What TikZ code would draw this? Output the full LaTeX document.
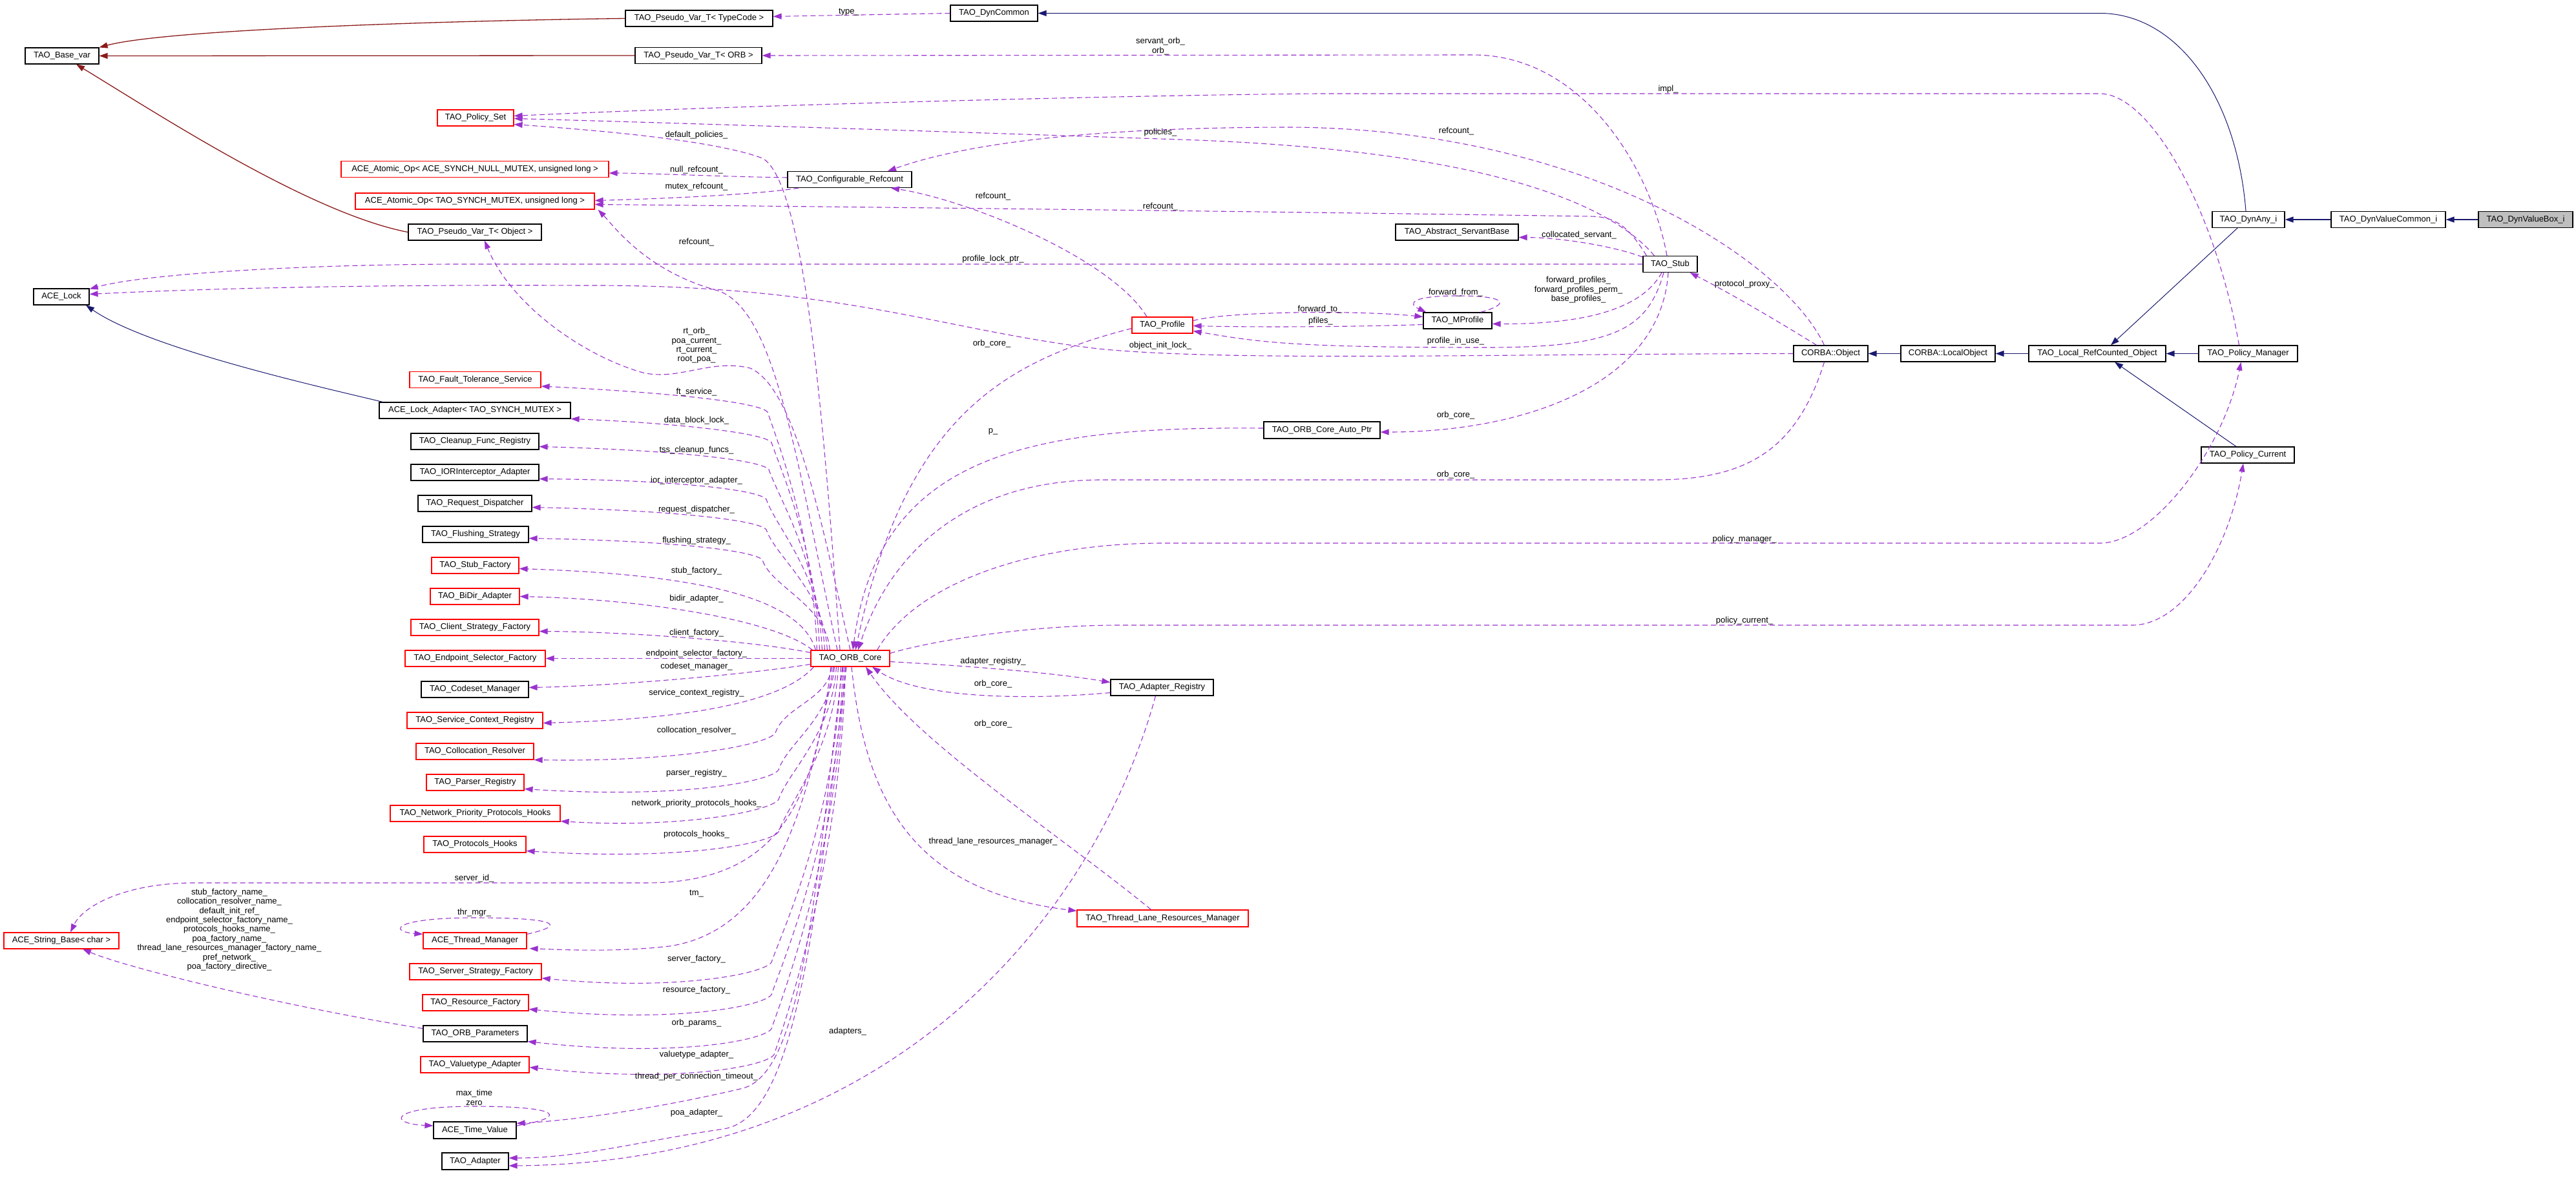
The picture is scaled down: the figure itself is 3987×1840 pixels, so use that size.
\documentclass[tikz,border=0pt]{standalone}
\usepackage{fontspec}
\setmainfont{Liberation Sans}
\usetikzlibrary{arrows.meta,calc}
\definecolor{uc}{HTML}{9A32CD}
\definecolor{mb}{HTML}{191970}
\definecolor{fb}{HTML}{8B1A1A}
\definecolor{gf}{HTML}{BFBFBF}
\newcommand\labfont{\fontsize{13}{14.4}\selectfont}
\tikzset{
  cbox/.style={draw=black, line width=1.2pt, fill=white, inner sep=0pt, minimum height=25pt, font=\labfont},
  rbox/.style={cbox, draw=red},
  arrowend/.style={-{Triangle[length=13pt,width=9pt]}},
  usage/.style={draw=uc, line width=1.1pt, dash pattern=on 8pt off 5pt, arrowend},
  inh/.style={draw=mb, line width=1.6pt, arrowend},
  inhc/.style={draw=mb, line width=1.0pt, arrowend},
  tmpl/.style={draw=fb, line width=1.3pt, arrowend},
  lbl/.style={font=\labfont, inner sep=0pt, align=center},
}
\newcommand\orbup[5]{\draw[usage] ($(orbcore.north west)+(#2,0)$) .. controls ($(orbcore.north west)+({#2-6},{(#4-1007)/2})$) and ({#3+14},{#4+42}) .. (#3,#4) .. controls ({#3-12},{#4-15}) and ({#3-150},{#4-30}) .. ($(#1.east)+(0,#5)$);}
\newcommand\orbdown[5]{\draw[usage] ($(orbcore.south west)+(#2,0)$) .. controls ($(orbcore.south west)+({#2-6},{(#4-1032)/2})$) and ({#3+14},{#4-42}) .. (#3,#4) .. controls ({#3-12},{#4+18}) and ({#3-150},{#4+45}) .. ($(#1.east)+(0,#5)$);}
\begin{document}
\begin{tikzpicture}[x=1pt,y=-1pt]
\fill[white] (0,0) rectangle (3987,1840);
\path[use as bounding box] (0,0) rectangle (3987,1840);

% ---------- nodes ----------
\node[cbox, minimum width=228] (pvTC) at (1082,28.5) {TAO\_Pseudo\_Var\_T< TypeCode >};
\node[cbox, minimum width=114] (basevar) at (96,86.5) {TAO\_Base\_var};
\node[cbox, minimum width=196] (pvORB) at (1081,86) {TAO\_Pseudo\_Var\_T< ORB >};
\node[rbox, minimum width=118] (polset) at (736,182.5) {TAO\_Policy\_Set};
\node[rbox, minimum width=414] (atomnull) at (735,262) {ACE\_Atomic\_Op< ACE\_SYNCH\_NULL\_MUTEX, unsigned long >};
\node[rbox, minimum width=370] (atommutex) at (735,311.5) {ACE\_Atomic\_Op< TAO\_SYNCH\_MUTEX, unsigned long >};
\node[cbox, minimum width=206] (pvObj) at (735,359.5) {TAO\_Pseudo\_Var\_T< Object >};
\node[cbox, minimum width=135] (dyncommon) at (1538.5,20.5) {TAO\_DynCommon};
\node[cbox, minimum width=192] (cfgref) at (1315,278) {TAO\_Configurable\_Refcount};
\node[cbox, minimum width=190] (servant) at (2255,359.5) {TAO\_Abstract\_ServantBase};
\node[cbox, minimum width=84] (stub) at (2585,409) {TAO\_Stub};
\node[cbox, minimum width=112] (dynany) at (3480,340) {TAO\_DynAny\_i};
\node[cbox, minimum width=177] (dynvc) at (3696.5,340) {TAO\_DynValueCommon\_i};
\node[cbox, minimum width=146, fill=gf] (dynvb) at (3909,340) {TAO\_DynValueBox\_i};
\node[cbox, minimum width=86] (acelock) at (95,459.5) {ACE\_Lock};
\node[rbox, minimum width=94] (profile) at (1799,503.5) {TAO\_Profile};
\node[cbox, minimum width=106] (mprofile) at (2256,496.5) {TAO\_MProfile};
\node[cbox, minimum width=115] (corbaobj) at (2833.5,547.5) {CORBA::Object};
\node[cbox, minimum width=146] (localobj) at (3015,547.5) {CORBA::LocalObject};
\node[cbox, minimum width=212] (lrco) at (3246,547.5) {TAO\_Local\_RefCounted\_Object};
\node[cbox, minimum width=153] (polman) at (3479.5,547.5) {TAO\_Policy\_Manager};
\node[cbox, minimum width=144] (polcur) at (3479,704.5) {TAO\_Policy\_Current};
\node[rbox, minimum width=203] (ftserv) at (735.5,588) {TAO\_Fault\_Tolerance\_Service};
\node[cbox, minimum width=296] (lockadapter) at (735,635.5) {ACE\_Lock\_Adapter< TAO\_SYNCH\_MUTEX >};
\node[cbox, minimum width=198] (cleanup) at (735,683.5) {TAO\_Cleanup\_Func\_Registry};
\node[cbox, minimum width=198] (ior) at (735,731.5) {TAO\_IORInterceptor\_Adapter};
\node[cbox, minimum width=176] (reqdisp) at (735,779.5) {TAO\_Request\_Dispatcher};
\node[cbox, minimum width=164] (flush) at (736,827.5) {TAO\_Flushing\_Strategy};
\node[rbox, minimum width=135] (stubfac) at (735.5,875.5) {TAO\_Stub\_Factory};
\node[rbox, minimum width=138] (bidir) at (735,923.5) {TAO\_BiDir\_Adapter};
\node[rbox, minimum width=198] (client) at (735,971.5) {TAO\_Client\_Strategy\_Factory};
\node[rbox, minimum width=217] (endpoint) at (735.5,1019.5) {TAO\_Endpoint\_Selector\_Factory};
\node[cbox, minimum width=166] (codeset) at (735,1067.5) {TAO\_Codeset\_Manager};
\node[rbox, minimum width=210] (svcctx) at (735,1115.5) {TAO\_Service\_Context\_Registry};
\node[rbox, minimum width=182] (colloc) at (735,1163.5) {TAO\_Collocation\_Resolver};
\node[rbox, minimum width=151] (parser) at (735.5,1211.5) {TAO\_Parser\_Registry};
\node[rbox, minimum width=263] (netprio) at (735.5,1259.5) {TAO\_Network\_Priority\_Protocols\_Hooks};
\node[rbox, minimum width=158] (prothooks) at (735,1307.5) {TAO\_Protocols\_Hooks};
\node[rbox, minimum width=122] (orbcore) at (1316,1019.5) {TAO\_ORB\_Core};
\node[cbox, minimum width=159] (adreg) at (1798.5,1064.5) {TAO\_Adapter\_Registry};
\node[rbox, minimum width=178] (strbase) at (95,1456.5) {ACE\_String\_Base< char >};
\node[rbox, minimum width=160] (thrmgr) at (735,1456.5) {ACE\_Thread\_Manager};
\node[rbox, minimum width=204] (serverfac) at (736,1504.5) {TAO\_Server\_Strategy\_Factory};
\node[rbox, minimum width=164] (resfac) at (736,1552.5) {TAO\_Resource\_Factory};
\node[cbox, minimum width=161] (orbparams) at (735.5,1600.5) {TAO\_ORB\_Parameters};
\node[rbox, minimum width=168] (valuetype) at (735,1648.5) {TAO\_Valuetype\_Adapter};
\node[cbox, minimum width=128, minimum height=26] (timeval) at (735,1750) {ACE\_Time\_Value};
\node[cbox, minimum width=103, minimum height=26] (adapter) at (735.5,1798) {TAO\_Adapter};
\node[rbox, minimum width=265, minimum height=26] (tlrm) at (1799.5,1422) {TAO\_Thread\_Lane\_Resources\_Manager};
\node[cbox, minimum width=180, minimum height=26] (autoptr) at (2046,666) {TAO\_ORB\_Core\_Auto\_Ptr};

% ---------- inheritance ----------
\draw[inh] (dynvb.west) -- (dynvc.east);
\draw[inh] (dynvc.west) -- (dynany.east);
\draw[inhc] ($(dynany.north)+(-4,0)$) .. controls (3462,150) and (3370,20.5) .. (3250,20.5) -- (dyncommon.east);
\draw[inhc] ($(dynany.south)+(-17,0)$) -- ($(lrco.north)+(21,0)$);
\draw[inh] (polman.west) -- (lrco.east);
\draw[inhc] ($(polcur.north)+(-18,0)$) -- ($(lrco.south)+(27,0)$);
\draw[inh] (lrco.west) -- (localobj.east);
\draw[inh] (localobj.west) -- (corbaobj.east);
\draw[inhc] ($(lockadapter.north west)+(6,0)$) .. controls (500,600) and (230,540) .. ($(acelock.south)+(38,0)$);
\draw[tmpl] (pvTC.west) .. controls (700,32) and (260,45) .. (basevar.north east);
\draw[tmpl] (pvORB.west) -- (basevar.east);
\draw[tmpl] (pvObj.west) .. controls (480,330) and (250,180) .. ($(basevar.south)+(22,0)$);

% ---------- usage (top area) ----------
\draw[usage] (dyncommon.west) -- ($(pvTC.east)+(0,-3)$);
\draw[usage] ($(stub.north)+(-5,0)$) .. controls (2555,260) and (2450,85) .. (2280,85) -- (pvORB.east);
\draw[usage] ($(polman.north)+(-14,0)$) .. controls (3430,330) and (3330,145) .. (3250,145) -- (2040,145) .. controls (1700,148) and (1100,165) .. ($(polset.east)+(0,-3)$);
\draw[usage] ($(stub.north west)+(18,0)$) .. controls (2480,300) and (2250,230) .. (1825,216) .. controls (1500,205) and (1100,192) .. ($(polset.east)+(0,1)$);
\draw[usage] ($(orbcore.north)+(-16,0)$) .. controls (1275,650) and (1245,280) .. (1180,245) .. controls (1100,215) and (900,200) .. ($(polset.east)+(0,10)$);
\draw[usage] ($(cfgref.west)+(0,-3)$) .. controls (1100,273) and (1000,268) .. ($(atomnull.east)+(0,6)$);
\draw[usage] ($(cfgref.south west)+(18,0)$) .. controls (1180,300) and (1050,307) .. ($(atommutex.east)+(0,-1)$);
\draw[usage] ($(stub.north west)+(6,0)$) .. controls (2520,350) and (2500,335) .. (2460,335) .. controls (2000,328) and (1300,320) .. ($(atommutex.east)+(0,5)$);
\draw[usage] ($(orbcore.north)+(-20,0)$) .. controls (1230,700) and (1200,480) .. (1111,450) .. controls (1000,420) and (950,350) .. ($(atommutex.south east)+(5,0)$);
\draw[usage] ($(corbaobj.north)+(-10,0)$) .. controls (2760,400) and (2450,200) .. (2000,197) .. controls (1700,197) and (1500,220) .. ($(cfgref.north)+(59,0)$);
\draw[usage] ($(profile.north)+(-24,0)$) .. controls (1720,400) and (1500,310) .. ($(cfgref.south)+(64,0)$);
\draw[usage] ($(stub.west)+(0,-11)$) .. controls (2500,382) and (2420,368) .. ($(servant.east)+(0,8)$);
\draw[usage] (stub.west) -- (700,409) .. controls (450,410) and (220,425) .. ($(acelock.north east)+(0,1)$);
\draw[usage] (corbaobj.west) .. controls (2300,548) and (1900,560) .. (1700,540) .. controls (1450,510) and (1300,440) .. (900,442) .. controls (500,440) and (250,450) .. ($(acelock.east)+(0,-4)$);
\draw[usage] (orbcore.north) .. controls (1270,800) and (1230,600) .. (1161,570) .. controls (1100,555) and (1050,590) .. (995,577) .. controls (900,550) and (790,470) .. ($(pvObj.south)+(15,0)$);

% ---------- profiles / stub ----------
\draw[usage] ($(profile.west)+(0,5)$) .. controls (1550,560) and (1400,650) .. ($(orbcore.north)+(8,0)$);
\draw[usage] ($(profile.east)+(0,-7)$) .. controls (1900,482) and (2100,480) .. ($(mprofile.west)+(0,-6)$);
\draw[usage] ($(mprofile.west)+(0,6)$) .. controls (2100,506) and (1950,507) .. ($(profile.east)+(0,1)$);
\draw[usage] ($(mprofile.north east)+(-18,0)$) .. controls (2340,470) and (2330,458) .. (2256,458) .. controls (2185,458) and (2178,470) .. ($(mprofile.north west)+(5,0)$);
\draw[usage] ($(stub.south)+(-13,0)$) .. controls (2540,480) and (2450,502) .. ($(mprofile.east)+(0,5)$);
\draw[usage] ($(stub.south)+(-10,0)$) .. controls (2550,510) and (2500,538) .. (2300,538) .. controls (2000,538) and (1950,530) .. ($(profile.east)+(0,9)$);
\draw[usage] ($(stub.south)+(-3,0)$) .. controls (2570,600) and (2350,669) .. ($(autoptr.east)+(0,3)$);
\draw[usage] ($(autoptr.west)+(0,-3)$) .. controls (1600,660) and (1360,700) .. ($(orbcore.north)+(4,0)$);
\draw[usage] ($(corbaobj.south)+(-10,0)$) .. controls (2780,700) and (2700,743) .. (2560,743) -- (1700,743) .. controls (1500,745) and (1380,850) .. ($(orbcore.north)+(12,0)$);
\draw[usage] ($(corbaobj.north)+(-22,0)$) .. controls (2740,490) and (2670,450) .. ($(stub.south east)+(-12,0)$);
\draw[usage] ($(orbcore.north east)+(-20,0)$) .. controls (1420,900) and (1600,841) .. (1800,841) -- (3250,841) .. controls (3330,841) and (3440,700) .. ($(polman.south)+(-11,0)$);
\draw[usage] ($(orbcore.east)+(0,-8)$) .. controls (1450,990) and (1600,968) .. (1731,968) -- (3300,968) .. controls (3380,968) and (3450,850) .. ($(polcur.south)+(-7,0)$);
\draw[usage] ($(orbcore.east)+(0,5)$) .. controls (1480,1030) and (1620,1040) .. ($(adreg.west)+(0,-8)$);
\draw[usage] ($(adreg.west)+(0,8)$) .. controls (1580,1085) and (1420,1080) .. ($(orbcore.south)+(34,0)$);
\draw[usage] ($(tlrm.north)+(-18,0)$) .. controls (1650,1300) and (1420,1150) .. ($(orbcore.south)+(24,0)$);
\draw[usage] ($(orbcore.south)+(2,0)$) .. controls (1340,1250) and (1420,1380) .. ($(tlrm.north west)+(0,2)$);
\draw[usage] ($(adreg.south)+(-10,0)$) .. controls (1700,1400) and (1400,1800) .. ($(adapter.east)+(0,7)$);

% ---------- ORB core fan (left) ----------
\orbup{ftserv}{10}{1188}{638}{10}
\orbup{lockadapter}{14}{1194}{685}{13}
\orbup{cleanup}{18}{1190}{727}{8}
\orbup{ior}{22}{1186}{773}{10}
\orbup{reqdisp}{26}{1186}{820}{6}
\orbup{flush}{30}{1180}{867}{6}
\draw[usage] ($(orbcore.north west)+(8,0)$) .. controls (1240,930) and (1100,890) .. ($(stubfac.east)+(0,5)$);
\draw[usage] ($(orbcore.north west)+(3,0)$) .. controls (1200,960) and (1000,928) .. (bidir.east);
\draw[usage] ($(orbcore.west)+(0,-9)$) .. controls (1150,990) and (950,978) .. ($(client.east)+(0,6)$);
\draw[usage] (orbcore.west) -- (endpoint.east);
\draw[usage] ($(orbcore.west)+(0,9)$) .. controls (1150,1045) and (950,1062) .. ($(codeset.east)+(0,-3)$);
\draw[usage] ($(orbcore.south west)+(5,0)$) .. controls (1200,1100) and (1000,1115) .. ($(svcctx.east)+(0,4)$);
\orbdown{colloc}{33}{1200}{1135}{13}
\orbdown{parser}{37}{1205}{1192}{10}
\orbdown{netprio}{40}{1205}{1238}{12}
\orbdown{prothooks}{43}{1205}{1288}{10}
\orbdown{serverfac}{47}{1194}{1490}{10}
\orbdown{resfac}{50}{1194}{1540}{10}
\orbdown{orbparams}{52}{1194}{1593}{12}
\orbdown{valuetype}{54}{1198}{1633}{4}
\draw[usage] ($(orbcore.south)+(-30,0)$) .. controls (1260,1250) and (1200,1367) .. (1000,1367) -- (300,1367) .. controls (200,1367) and (130,1400) .. ($(strbase.north)+(14,0)$);
\draw[usage] ($(orbcore.south)+(-26,0)$) .. controls (1250,1250) and (1200,1440) .. (1036,1465) .. controls (950,1475) and (860,1470) .. ($(thrmgr.south east)+(4,-1)$);
\draw[usage] ($(thrmgr.north east)+(0,3)$) .. controls (880,1432) and (860,1421) .. (735,1421) .. controls (610,1421) and (600,1442) .. ($(thrmgr.north west)+(0,3)$);
\draw[usage] ($(orbcore.south)+(-12,0)$) .. controls (1260,1400) and (1240,1660) .. (1150,1685) .. controls (1000,1720) and (880,1735) .. ($(timeval.north east)+(0,3)$);
\draw[usage] ($(timeval.east)+(0,-7)$) .. controls (880,1730) and (870,1713) .. (735,1713) .. controls (600,1713) and (600,1740) .. ($(timeval.west)+(0,-7)$);
\draw[usage] ($(orbcore.south)+(-6,0)$) .. controls (1260,1450) and (1230,1730) .. (1120,1748) .. controls (1000,1765) and (900,1793) .. ($(adapter.east)+(0,-5)$);
\draw[usage] ($(orbparams.west)+(0,-8)$) .. controls (450,1560) and (200,1500) .. ($(strbase.south)+(33,0)$);

% ---------- labels ----------
\node[lbl] (la1) at (1314,19) {type\_};
\node[lbl] (la2) at (1796,71.5) {servant\_orb\_\\orb\_};
\node[lbl] (la3) at (2582,138) {impl\_};
\node[lbl] (la4) at (1796,205) {policies\_};
\node[lbl] (la5) at (2254,203) {refcount\_};
\node[lbl] (la6) at (1078,209) {default\_policies\_};
\node[lbl] (la7) at (1078,263) {null\_refcount\_};
\node[lbl] (la8) at (1078,289) {mutex\_refcount\_};
\node[lbl] (la9) at (1537,304) {refcount\_};
\node[lbl] (la10) at (1796,320) {refcount\_};
\node[lbl] (la11) at (2444,364) {collocated\_servant\_};
\node[lbl] (la12) at (1078,375) {refcount\_};
\node[lbl] (la13) at (1537,401) {profile\_lock\_ptr\_};
\node[lbl] (la14) at (2700,440) {protocol\_proxy\_};
\node[lbl] (la15) at (2443,449) {forward\_profiles\_\\forward\_profiles\_perm\_\\base\_profiles\_};
\node[lbl] (la16) at (2253,453) {forward\_from\_};
\node[lbl] (la17) at (2043,479) {forward\_to\_};
\node[lbl] (la18) at (2044,497) {pfiles\_};
\node[lbl] (la19) at (1078,535) {rt\_orb\_\\poa\_current\_\\rt\_current\_\\root\_poa\_};
\node[lbl] (la20) at (2253,528) {profile\_in\_use\_};
\node[lbl] (la21) at (1535,532) {orb\_core\_};
\node[lbl] (la22) at (1796,535) {object\_init\_lock\_};
\node[lbl] (la23) at (1078,607) {ft\_service\_};
\node[lbl] (la24) at (2253,643) {orb\_core\_};
\node[lbl] (la25) at (1078,651) {data\_block\_lock\_};
\node[lbl] (la26) at (1537,668) {p\_};
\node[lbl] (la27) at (1078,697) {tss\_cleanup\_funcs\_};
\node[lbl] (la28) at (2253,735) {orb\_core\_};
\node[lbl] (la29) at (1078,744) {ior\_interceptor\_adapter\_};
\node[lbl] (la30) at (1078,789) {request\_dispatcher\_};
\node[lbl] (la31) at (2700,835) {policy\_manager\_};
\node[lbl] (la32) at (1078,837) {flushing\_strategy\_};
\node[lbl] (la33) at (1078,884) {stub\_factory\_};
\node[lbl] (la34) at (1078,927) {bidir\_adapter\_};
\node[lbl] (la35) at (2700,961) {policy\_current\_};
\node[lbl] (la36) at (1078,980) {client\_factory\_};
\node[lbl] (la37) at (1078,1012) {endpoint\_selector\_factory\_};
\node[lbl] (la38) at (1537,1024) {adapter\_registry\_};
\node[lbl] (la39) at (1078,1032) {codeset\_manager\_};
\node[lbl] (la40) at (1537,1059) {orb\_core\_};
\node[lbl] (la41) at (1078,1073) {service\_context\_registry\_};
\node[lbl] (la42) at (1537,1121) {orb\_core\_};
\node[lbl] (la43) at (1078,1131) {collocation\_resolver\_};
\node[lbl] (la44) at (1078,1197) {parser\_registry\_};
\node[lbl] (la45) at (1078,1244) {network\_priority\_protocols\_hooks\_};
\node[lbl] (la46) at (1078,1292) {protocols\_hooks\_};
\node[lbl] (la47) at (1537,1303) {thread\_lane\_resources\_manager\_};
\node[lbl] (la48) at (734,1360) {server\_id\_};
\node[lbl] (la49) at (355,1439.5) {stub\_factory\_name\_\\collocation\_resolver\_name\_\\default\_init\_ref\_\\endpoint\_selector\_factory\_name\_\\protocols\_hooks\_name\_\\poa\_factory\_name\_\\thread\_lane\_resources\_manager\_factory\_name\_\\pref\_network\_\\poa\_factory\_directive\_};
\node[lbl] (la50) at (1078,1384) {tm\_};
\node[lbl] (la51) at (734,1413) {thr\_mgr\_};
\node[lbl] (la52) at (1078,1485) {server\_factory\_};
\node[lbl] (la53) at (1078,1533) {resource\_factory\_};
\node[lbl] (la54) at (1078,1584) {orb\_params\_};
\node[lbl] (la55) at (1312,1597) {adapters\_};
\node[lbl] (la56) at (1078,1633) {valuetype\_adapter\_};
\node[lbl] (la57) at (1078,1667) {thread\_per\_connection\_timeout\_};
\node[lbl] (la58) at (734,1699.5) {max\_time\\zero};
\node[lbl] (la59) at (1078,1723) {poa\_adapter\_};
\end{tikzpicture}
\end{document}
